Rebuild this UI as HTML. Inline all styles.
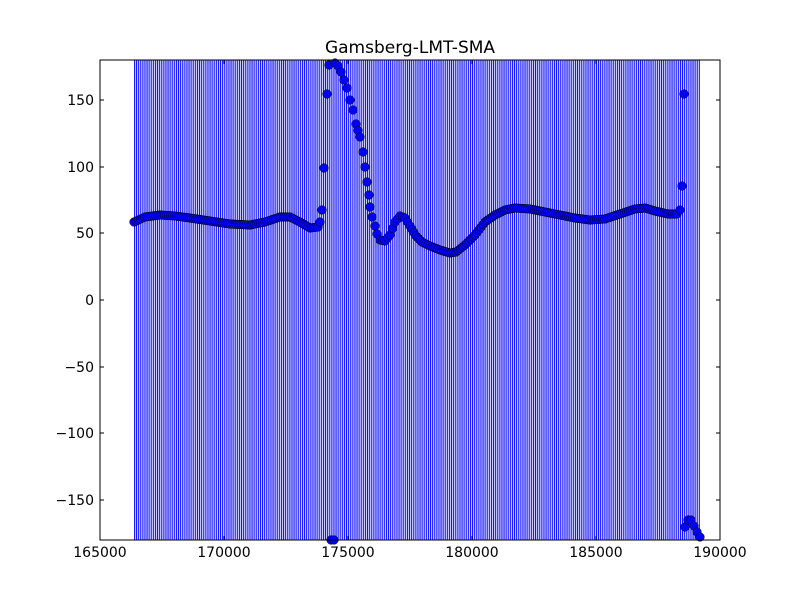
<!DOCTYPE html>
<html><head><style>body{margin:0;background:#fff}svg{display:block}text{font-family:"DejaVu Sans","Liberation Sans",sans-serif}</style></head>
<body>
<svg id="s" width="800" height="600" xmlns="http://www.w3.org/2000/svg">
<defs><pattern id="p" x="134" y="0" width="2.1" height="10" patternUnits="userSpaceOnUse"><rect width="2.1" height="10" fill="#d0d0ff"/><rect width="0.9" height="10" fill="#0000ff"/></pattern></defs>
<rect x="0" y="0" width="800" height="600" fill="#fff"/>
<rect x="134" y="60" width="566" height="480" fill="url(#p)"/>
<g id="m"></g>
<rect x="100" y="60" width="620" height="480" fill="none" stroke="#000" stroke-width="1"/>
<g id="t" stroke="#000" stroke-width="1"></g>
<text x="410" y="53" font-size="17" text-anchor="middle">Gamsberg-LMT-SMA</text>
<g font-size="14" text-anchor="middle">
<text x="100" y="557">165000</text><text x="224" y="557">170000</text><text x="348" y="557">175000</text><text x="472" y="557">180000</text><text x="596" y="557">185000</text><text x="720" y="557">190000</text>
</g>
<g font-size="14" text-anchor="end">
<text x="94" y="105">150</text><text x="94" y="172">100</text><text x="94" y="238">50</text><text x="94" y="305">0</text><text x="94" y="372">−50</text><text x="94" y="438">−100</text><text x="94" y="505">−150</text>
</g>
</svg>
<script>
var NS="http://www.w3.org/2000/svg";
function interp(pts,step){var out=[];for(var i=0;i<pts.length-1;i++){var a=pts[i],b=pts[i+1];var n=Math.max(1,Math.round((b[0]-a[0])/step));for(var k=0;k<n;k++){var t=k/n;out.push([a[0]+(b[0]-a[0])*t,a[1]+(b[1]-a[1])*t]);}}out.push(pts[pts.length-1]);return out;}
var A=[[134,222],[145,217],[160,215],[175,216],[190,218],[210,221],[230,224],[250,225],[265,222],[280,217],[290,217],[300,222],[310,228],[318,227],[320,222]];
var B=[[335,63],[338,66],[341,72],[344,80],[347,88],[350,100],[353,110],[356,124],[360,137],[363,152],[365,167],[367,182],[369,195],[370,207],[372,217],[375,226],[377,234],[380,240],[385,241],[390,235],[395,222],[400,216],[405,218],[410,226],[416,236],[422,242],[430,246],[440,250],[450,253],[456,252],[465,245],[475,235],[485,222],[495,215],[505,210],[515,208],[530,209],[545,212],[560,215],[575,218],[590,220],[605,219],[620,214],[635,209],[645,208],[655,211],[668,214],[677,214],[680,210]];
var pts=interp(A,2.1).concat([[322,210],[324,168],[327,94],[329,65],[331,540],[334,540]]).concat(interp(B,2.1)).concat([[682,186],[684,94],[685,527],[688,520],[691,520],[694,526],[697,532],[700,537]]);
var g=document.getElementById("m");
pts.forEach(function(p){var c=document.createElementNS(NS,"circle");c.setAttribute("cx",p[0]);c.setAttribute("cy",p[1]);c.setAttribute("r",4.3);c.setAttribute("fill","#0000ff");c.setAttribute("stroke","#000");c.setAttribute("stroke-width","0.5");g.appendChild(c);});
var t=document.getElementById("t");
function ln(x1,y1,x2,y2){var l=document.createElementNS(NS,"line");l.setAttribute("x1",x1);l.setAttribute("y1",y1);l.setAttribute("x2",x2);l.setAttribute("y2",y2);t.appendChild(l);}
[100,224,348,472,596,720].forEach(function(x){ln(x,540,x,536);ln(x,60,x,64);});
[100,167,233,300,367,433,500].forEach(function(y){ln(100,y,104,y);ln(720,y,716,y);});
</script>
</body></html>
